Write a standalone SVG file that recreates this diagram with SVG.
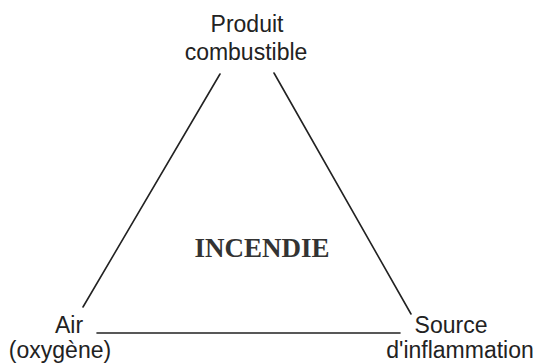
<svg xmlns="http://www.w3.org/2000/svg" width="544" height="364" viewBox="0 0 544 364">
<style>
.lbl{font-family:"Liberation Sans",Arial,sans-serif;font-size:23px;fill:#222;}
.title{font-family:"Liberation Serif","Times New Roman",serif;font-size:27px;font-weight:bold;fill:#333;}
.edge{stroke:#222;stroke-width:1.6;fill:none;stroke-linecap:round;}
</style>
<rect width="544" height="364" fill="#fff"/>
<g id="connectors">
<line class="edge" x1="220" y1="74" x2="83" y2="307"/>
<line class="edge" x1="274" y1="73" x2="411" y2="314"/>
<line class="edge" x1="97" y1="333" x2="400" y2="333"/>
</g>
<g id="produit">
<text class="lbl" x="247" y="32" text-anchor="middle">Produit</text>
<text class="lbl" x="246" y="60" text-anchor="middle">combustible</text>
</g>
<g id="air">
<text class="lbl" x="69" y="333" text-anchor="middle">Air</text>
<text class="lbl" x="60" y="358" text-anchor="middle">(oxygène)</text>
</g>
<g id="source">
<text class="lbl" x="451" y="333" text-anchor="middle">Source</text>
<text class="lbl" x="460" y="358" text-anchor="middle">d'inflammation</text>
</g>
<g id="incendie">
<text class="title" x="262" y="257" text-anchor="middle">INCENDIE</text>
</g>
</svg>
